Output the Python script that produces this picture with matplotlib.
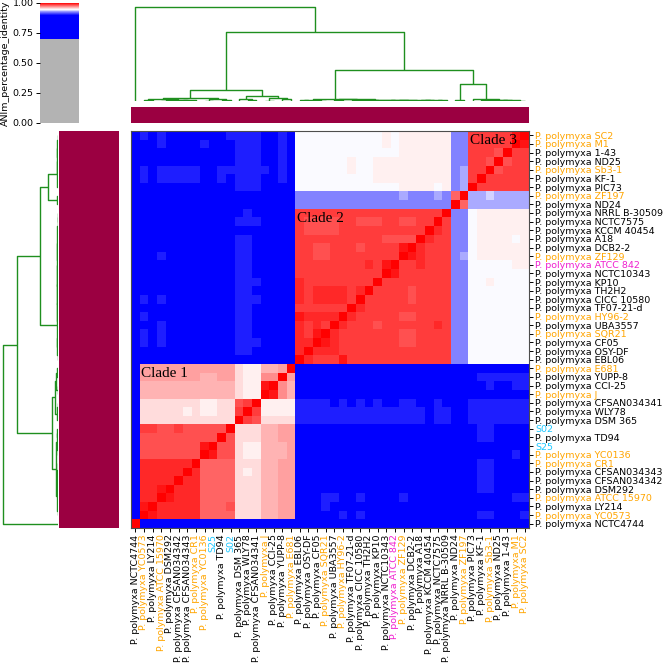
import numpy as np
import matplotlib
matplotlib.use("Agg")
import matplotlib.pyplot as plt
from matplotlib.colors import LinearSegmentedColormap, ListedColormap, Normalize
from matplotlib.cm import ScalarMappable

# ---------------- data ----------------
# genome labels in dendrogram leaf order (left -> right on the x axis,
# bottom -> top on the y axis)
LABELS = [
    "P. polymyxa NCTC4744", "P. polymyxa YC0573", "P. polymyxa LY214",
    "P. polymyxa ATCC 15970", "P. polymyxa DSM292", "P. polymyxa CFSAN034342",
    "P. polymyxa CFSAN034343", "P. polymyxa CR1", "P. polymyxa YC0136", "S25",
    "P. polymyxa TD94", "S02", "P. polymyxa DSM 365", "P. polymyxa WLY78",
    "P. polymyxa CFSAN034341", "P. polymyxa J", "P. polymyxa CCI-25",
    "P. polymyxa YUPP-8", "P. polymyxa E681", "P. polymyxa EBL06",
    "P. polymyxa OSY-DF", "P. polymyxa CF05", "P. polymyxa SQR21",
    "P. polymyxa UBA3557", "P. polymyxa HY96-2", "P. polymyxa TF07-21-d",
    "P. polymyxa CICC 10580", "P. polymyxa TH2H2", "P. polymyxa KP10",
    "P. polymyxa NCTC10343", "P. polymyxa ATCC 842", "P. polymyxa ZF129",
    "P. polymyxa DCB2-2", "P. polymyxa A18", "P. polymyxa KCCM 40454",
    "P. polymyxa NCTC7575", "P. polymyxa NRRL B-30509", "P. polymyxa ND24",
    "P. polymyxa ZF197", "P. polymyxa PIC73", "P. polymyxa KF-1",
    "P. polymyxa Sb3-1", "P. polymyxa ND25", "P. polymyxa 1-43",
    "P. polymyxa M1", "P. polymyxa SC2",
]
# label colour group per genome (k black, o orange, c cyan, m magenta)
LABEL_GROUP = "kokokkkooc" "kckkkokkok" "kkokokkkkk" "mokkkkkkok" "kokkoo"
GROUP_COLORS = {"k": "black", "o": "#FFA500", "c": "#1EC8FF", "m": "#F020D0"}

# ANIm identity levels used in the displayed grid
LEVEL_CODES = "BbLlmWw123456789R"
LEVEL_VALUES = [0.880, 0.905, 0.925, 0.933, 0.940, 0.949, 0.953, 0.957, 0.962,
                0.967, 0.972, 0.977, 0.982, 0.987, 0.992, 0.996, 1.000]

# displayed matrix, top row (SC2) to bottom row (NCTC4744), columns in LABELS order
GRID = [
    "B" "bBbBBBBBBBbbbbBBbB" "WWWWWWWWWWwWwwwwww" "LL" "777779R",
    "B" "BBbBBBBbBBBbbbBBbB" "WWWWWWWWWWwWwwwwww" "LL" "77777R9",
    "B" "BBBBBBBBBBBbbbBBbB" "WWWWWWWWWWWWwwwwww" "LL" "7776R77",
    "B" "BBBBBBBBBBBbbbBBbB" "WWWWWWwWWwwwwwwwww" "LL" "776R677",
    "B" "bBbbbbbBBbbbbbbBbB" "WWWWWWwWWwwwwwwwww" "Ll" "77R6777",
    "B" "bBbbbbbBBbBbbbBBbB" "WWWWWWWWWwwwwwwwww" "Ll" "7R77777",
    "B" "BBBBBBBBBBBbbbBBBB" "WWWWWWWWWWWWwwwwWw" "Ll" "R777777",
    "B" "BBBBBBBBBBBBBBBBBB" "LLLLLLLLLLLLlLLLlL" "5R" "llmllll",
    "B" "BBBBBBBBBBBBBBBBBB" "LLLLLLLLLLLLLLLLLL" "R5" "lllllll",
    "B" "BBBBBBBBBBBBbBBBBB" "77777777777777777R" "LL" "Wwwwwww",
    "B" "BBBBBBBBBBBbbbBBBB" "7666677666776677R7" "LL" "Wwwwwww",
    "B" "BBBBBBBBBBBBBBBBBB" "766667777777777R87" "LL" "Wwwwwww",
    "B" "BBBBBBBBBBBbbBBBBB" "77777777776666R877" "LL" "WwwwwWw",
    "B" "BBBBBBBBBBBbbBBBBB" "7766777677779R8777" "LL" "Wwwwwww",
    "B" "BBbBBBBBBBBbbBBBBB" "776677777777R98777" "Ll" "Wwwwwww",
    "B" "BBBBBBBBBBBbbBBBBB" "77777777879R778777" "LL" "WWWWWww",
    "B" "BBBBBBBBBBBbbBBBBB" "7777777777R9777777" "LL" "WWWWWWW",
    "B" "BBBBBBBBBBBbbbBBBB" "877777777R77777777" "LL" "WWwWWWW",
    "B" "BBBBBBBBBBBbbBBBBB" "87888878R777767777" "LL" "WWWWWWW",
    "B" "bBbBBBBBBBBbbbBBBB" "8788887R7777767777" "LL" "WWWWWWW",
    "B" "BBBBBBBBBBBbbBBBBB" "777777R87777777777" "LL" "WWWWWWW",
    "B" "bBBBBBBBBBBbbBBBBB" "98888R877777667777" "LL" "WWWWWWW",
    "B" "BBbBBBBBBBBbbBBBBB" "8787R8777677777787" "LL" "WWWWWWW",
    "B" "bBbBBBBBBBBbbBBBBB" "879R87777777667777" "LL" "WWWWWWW",
    "B" "bBbBBBBBBBBbbbBBBB" "88R987777777667777" "LL" "WWWWWWW",
    "B" "BBBBBBBBBBBbbBBBBB" "8R8887777777777777" "LL" "WWWWWWW",
    "B" "BBBBBBBBBBBBBBBBBB" "R87779777777777777" "LL" "WWWWWWW",
    "B" "333333333331ww223R" "BBBBBBBBBBBBBBBBBB" "BB" "BBBBBBB",
    "B" "333333322331ww44R3" "BBBBBBBBBBBBBBBBBB" "BB" "Bbbbbbb",
    "B" "222222222221ww9R42" "BBBBBBBBBBBBBBBBBB" "BB" "BBbBBbb",
    "B" "222222222221wwR942" "BBBBBBBBBBBBBBBBBB" "BB" "BBBBBBB",
    "B" "1111111ww1167Rwwww" "bbbbBbBbBbBBbbBBbB" "BB" "bbbbbbb",
    "B" "11111w1ww117R7wwww" "bbbbbbbbbbbbbbbBbb" "BB" "bbbbbbb",
    "B" "11111111111R761111" "bbbbbbbbbbbbbbbBbb" "BB" "bbbbbbb",
    "B" "7766766666R1112233" "BBBBBBBBBBBBBBBBBB" "BB" "BbbBBBB",
    "B" "666666666R61112233" "BBBBBBBBBBBBBBBBBB" "BB" "BbbBBBB",
    "B" "66666669R661ww2223" "BBBBBBBBBBBBBBBBBB" "BB" "BBBBBBB",
    "B" "6666666R9661ww2223" "BBBBBBBBBBBBBBBBBB" "BB" "BBBBBbB",
    "B" "888888R55551112233" "BBBBBBBBBBBBBBBBBB" "BB" "BbbBBBB",
    "B" "88888R855551w12233" "BBBBBBBBBBBBBBBBBB" "BB" "BbbBBBB",
    "B" "8888R8855551112233" "BBBBBBBBBBBBBBBBBB" "BB" "BbbBBBB",
    "B" "889R88855551112233" "BBBBBBBBBBBBBBBBBB" "BB" "BbbBBBB",
    "B" "88R988855551112233" "BBBbbBBbBBBBbBBBBB" "BB" "BBBBBbb",
    "B" "9R8888855561112233" "BBBbBBBBBBBBBBBBBB" "BB" "BBBBBBB",
    "B" "R98888855551112233" "BBBBBbBbBBBBBBBBBB" "BB" "BbbBBBb",
    "R" "BBBBBBBBBBBBBBBBBB" "BBBBBBBBBBBBBBBBBB" "BB" "BBBBBBB",
]

# hierarchical tree: (merge height, left, right); ints are leaf indices into LABELS
CLADE1 = (0.115,
          (0.032,
           (0.018, (0.006, 1, 2), (0.012, (0.005, 3, 4), (0.008, (0.006, 5, 6), 7))),
           (0.016, (0.005, 8, 9), (0.010, 10, 11))),
          (0.053,
           (0.018, 12, (0.006, 13, 14)),
           (0.029, (0.005, 15, 16), (0.018, 17, 18))))
CLADE2 = (0.020,
          (0.012, (0.006, 19, 20), (0.005, 21, 22)),
          (0.016, (0.006, 23, 24),
           (0.013, (0.008, 25, 26),
            (0.011, (0.007, 27, 28),
             (0.010, (0.006, (0.003, 29, 30), (0.003, 31, 32)),
              (0.008, (0.006, 33, 34), (0.006, 35, 36)))))))
CLADE3 = (0.020, 39, (0.014, (0.008, 40, 41), (0.010, (0.007, 42, 43), (0.003, 44, 45))))
TREE = (1.0, 0, (0.734, CLADE1, (0.325, CLADE2, (0.18, (0.010, 37, 38), CLADE3))))

# clade annotations: text, first column, first displayed row
CLADE_TEXT = ["Clade 1", "Clade 2", "Clade 3"]
CLADE_COL = [1, 19, 39]
CLADE_ROW = [27, 9, 0]

N = len(LABELS)
assert len(LABEL_GROUP) == N
assert all(len(r) == N for r in GRID), [len(r) for r in GRID]
lut = dict(zip(LEVEL_CODES, LEVEL_VALUES))
D = np.array([[lut[ch] for ch in row] for row in GRID])

# pyani species-boundary colour map
cdict = {
    "red": ((0.0, 0.0, 0.7), (0.7, 0.7, 0.0), (0.9, 0.0, 0.0), (0.95, 1.0, 1.0), (1.0, 1.0, 1.0)),
    "green": ((0.0, 0.0, 0.7), (0.7, 0.7, 0.0), (0.9, 0.0, 0.0), (0.95, 1.0, 1.0), (1.0, 0.0, 0.0)),
    "blue": ((0.0, 0.0, 0.7), (0.7, 0.7, 1.0), (0.9, 1.0, 1.0), (0.95, 1.0, 1.0), (1.0, 0.0, 0.0)),
}
cmap = LinearSegmentedColormap("spbnd_BuRd", cdict)

W, H = 668, 671
fig = plt.figure(figsize=(W / 100, H / 100), dpi=100)


def px_axes(x0, y0, x1, y1):
    return fig.add_axes([x0 / W, 1 - y1 / H, (x1 - x0) / W, (y1 - y0) / H])


DENDRO_COLOR = "#1f8f1f"
CLASS_COLOR = "#9B0041"

# heatmap
ax = px_axes(131, 131, 529, 528)
ax.imshow(D, cmap=cmap, vmin=0, vmax=1, aspect="auto", interpolation="nearest",
          extent=(0, N, N, 0))
ax.set_xlim(0, N)
ax.set_ylim(N, 0)
ax.set_xticks(np.arange(N) + 0.5)
ax.set_xticklabels(LABELS, rotation=90, fontsize=6.8)
ax.set_yticks(np.arange(N) + 0.5)
ax.set_yticklabels(LABELS[::-1], fontsize=6.8)
ax.yaxis.tick_right()
ax.tick_params(length=2.6, width=0.7, pad=2)
for lab, g in zip(ax.get_xticklabels(), LABEL_GROUP):
    lab.set_color(GROUP_COLORS[g])
for lab, g in zip(ax.get_yticklabels(), LABEL_GROUP[::-1]):
    lab.set_color(GROUP_COLORS[g])
for s in ax.spines.values():
    s.set_color("0.3")
    s.set_linewidth(0.8)
for t, c, r in zip(CLADE_TEXT, CLADE_COL, CLADE_ROW):
    ax.text(c + 0.15, r + 0.35, t, fontsize=11, family="Liberation Serif",
            va="top", ha="left", color="black")


def layout(node, segs):
    if isinstance(node, int):
        return node + 0.5, 0.0
    h, a, b = node
    pa, ha = layout(a, segs)
    pb, hb = layout(b, segs)
    segs.append(([pa, pa, pb, pb], [ha, h, h, hb]))
    return (pa + pb) / 2, h


segs = []
layout(TREE, segs)
root_h = TREE[0]

# top dendrogram
axt = px_axes(131, 2, 529, 101)
for xs, ys in segs:
    axt.plot(xs, ys, color=DENDRO_COLOR, lw=1.0, solid_capstyle="butt")
axt.set_xlim(0, N)
axt.set_ylim(0, root_h * 1.05)
axt.axis("off")

# left dendrogram
axl = px_axes(0, 131, 58, 528)
for xs, ys in segs:
    axl.plot(ys, xs, color=DENDRO_COLOR, lw=1.0, solid_capstyle="butt")
axl.set_ylim(0, N)
axl.set_xlim(root_h * 1.05, 0)
axl.axis("off")

# class colour bars
axc = px_axes(131, 107, 529, 123)
axc.imshow(np.zeros((1, N)), cmap=ListedColormap([CLASS_COLOR]),
           aspect="auto", extent=(0, N, 1, 0))
axc.axis("off")
axr = px_axes(59, 131, 119, 528)
axr.imshow(np.zeros((N, 1)), cmap=ListedColormap([CLASS_COLOR]),
           aspect="auto", extent=(0, 1, N, 0))
axr.axis("off")

# colour bar
axcb = px_axes(40, 3, 79, 123)
cb = fig.colorbar(ScalarMappable(norm=Normalize(0, 1), cmap=cmap), cax=axcb)
cb.outline.set_visible(False)
cb.set_ticks([0, 0.25, 0.5, 0.75, 1.0])
cb.ax.yaxis.set_ticks_position("left")
cb.ax.yaxis.set_label_position("left")
cb.ax.set_yticklabels(["0.00", "0.25", "0.50", "0.75", "1.00"])
cb.ax.tick_params(labelsize=6.8, length=2.6, width=0.7, pad=2)
cb.set_label("ANIm_percentage_identity", fontsize=6.8, labelpad=2)

fig.savefig("out.png", dpi=100)
